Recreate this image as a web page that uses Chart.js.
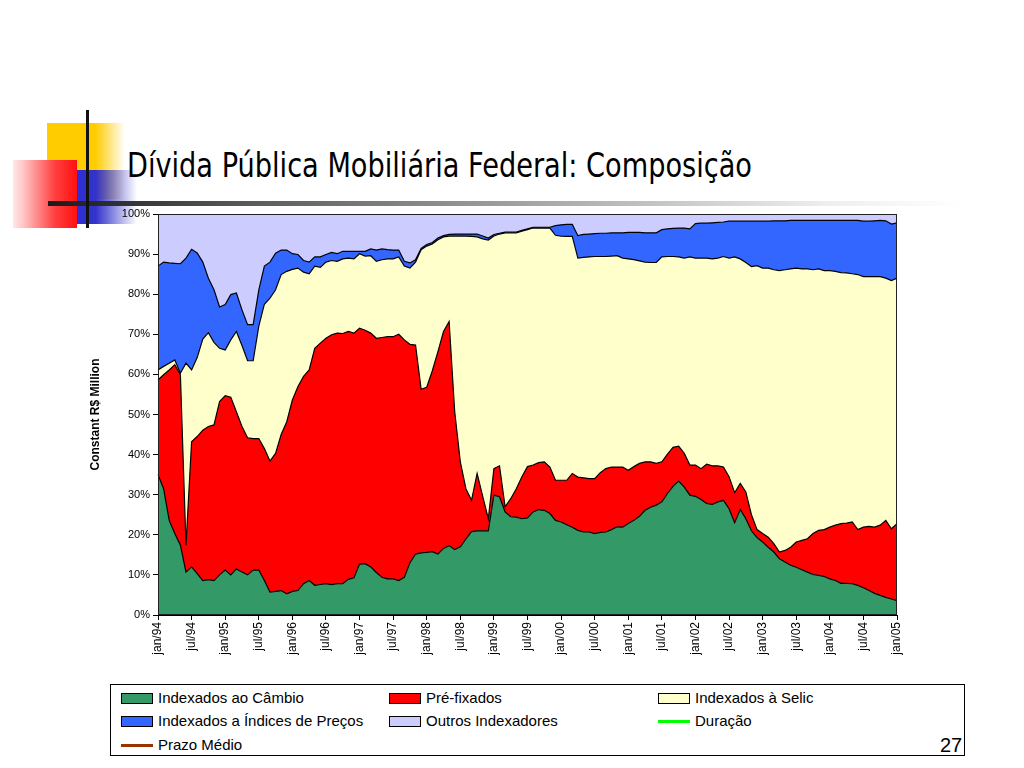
<!DOCTYPE html>
<html>
<head>
<meta charset="utf-8">
<script src="https://cdn.jsdelivr.net/npm/chart.js@4.4.1/dist/chart.umd.min.js"></script>
<style>
html,body{margin:0;padding:0;background:#fff;}
body{width:1024px;height:768px;position:relative;overflow:hidden;font-family:"Liberation Sans",Arial,sans-serif;}
.abs{position:absolute;}
#title{position:absolute;left:127px;top:148px;font-family:"DejaVu Sans","Liberation Sans",sans-serif;font-size:34px;line-height:34px;white-space:nowrap;color:#000;transform-origin:0 0;}
#legend{position:absolute;left:110px;top:684px;width:853px;height:70px;border:1px solid #000;background:#fff;}
.lg{position:absolute;font-size:15px;line-height:16px;white-space:nowrap;color:#000;}
.mk{position:absolute;}
#pg{position:absolute;left:940px;top:735px;font-size:20px;line-height:20px;color:#000;}
canvas{position:absolute;left:0;top:0;}
</style>
</head>
<body>
<!-- decorative slide elements -->
<div class="abs" style="left:47px;top:123px;width:78px;height:76px;background:linear-gradient(to right,#FFCC00 0%,#FFCC00 62%,rgba(255,255,255,0) 100%);"></div>
<div class="abs" style="left:62px;top:170px;width:75px;height:54px;background:linear-gradient(to right,#2A2ADB 0%,#3333CC 45%,rgba(255,255,255,0) 100%);"></div>
<div class="abs" style="left:13px;top:160px;width:64px;height:68px;background:linear-gradient(to left,#FF1010 0%,#FF4040 35%,#FFC8C8 85%,#FFE8E8 100%);"></div>
<div class="abs" style="left:48px;top:201px;width:915px;height:5px;background:linear-gradient(to right,#1a1a1a 0%,#555 20%,#aaa 55%,#eee 85%,#fff 100%);"></div>
<div class="abs" style="left:86px;top:110px;width:3px;height:118px;background:#111;"></div>
<div id="title">Dívida Pública Mobiliária Federal: Composição</div>

<canvas id="c" width="1024" height="768"></canvas>

<div id="legend"></div>
<div id="pg">27</div>

<script>
// ---- categories ----
const monthNames = ['jan','fev','mar','abr','mai','jun','jul','ago','set','out','nov','dez'];
const years = ['94','95','96','97','98','99','00','01','02','03','04','05'];
const categories = [];
for (const y of years) for (const m of monthNames) { if (categories.length < 133) categories.push(m + '/' + y); }

const tickLabels = ['jan/94','jul/94','jan/95','jul/95','jan/96','jul/96','jan/97','jul/97','jan/98','jul/98',
  'jan/99','jul/99','jan/00','jul/00','jan/01','jul/01','jan/02','jul/02','jan/03','jul/03','jan/04','jul/04','jan/05'];

const yTicks = [0,10,20,30,40,50,60,70,80,90,100];

// ---- series values (% of total) ----
const cambio = [35,31.5,23.6,20.3,17.4,10.7,12,10.3,8.6,8.8,
  8.6,10,11.2,10,11.5,10.7,10,11.2,11.2,8.6,
  5.7,5.9,6.1,5.3,5.9,6.1,7.8,8.6,7.4,7.6,
  7.8,7.6,7.8,7.8,8.9,9.3,12.7,12.8,12,10.6,
  9.4,9,9,8.6,9.4,13,15.2,15.5,15.6,15.8,
  15.2,16.6,17.3,16.3,17,19,20.8,21,21,21,
  29.9,29.5,25.7,24.5,24.4,24,24.2,25.7,26.3,26.1,
  25.3,23.6,23.2,22.5,21.9,21.1,20.7,20.7,20.3,20.6,
  20.7,21.3,22,21.9,22.8,23.6,24.6,26.1,26.9,27.4,
  28.2,30.3,32.1,33.4,31.9,29.9,29.6,28.8,27.8,27.6,
  28.2,28.6,26.5,23,26.3,24,21,19.3,18.2,16.9,
  15.7,14,13.2,12.4,11.9,11.3,10.7,10.1,9.9,9.6,
  9,8.6,7.9,7.9,7.8,7.4,6.8,6.1,5.4,4.9,4.4,4,3.6];

const prefixados = [23.6,28.4,37.5,42.1,42.5,6.7,31.2,34.2,37.5,38.2,
  38.8,43.2,43.5,44.3,39.2,36.3,34.2,32.8,32.8,32.9,
  32.7,34.4,38.9,42.9,47.7,50.9,51.7,52.5,59.1,60.2,
  61.2,62.3,62.5,62.4,61.8,61,58.8,58.2,58.3,58.4,
  59.8,60.4,60.4,61.4,59.2,54.5,52.1,40.8,41.2,45.1,
  50.5,54.1,55.9,34.4,21.2,12.5,7.8,14.3,8.6,3,
  6.6,7.7,1.3,4.5,7.1,10.5,12.8,11.7,11.7,12.1,
  11.6,10,10.4,11.1,13.4,13.3,13.5,13.3,13.7,14.9,
  15.8,15.6,14.9,15,13.3,13.4,13.2,12.1,11.3,10.4,
  10,9.8,9.7,8.7,8.4,7.5,7.8,7.7,9.8,9.6,
  9,8.3,8,7.5,6.5,6.7,4,2,2.1,2.5,
  2.1,1.7,2.9,4.5,6.3,7.3,8.3,10.2,11.2,11.7,
  12.9,13.8,14.9,15,15.4,13.9,15.1,16,16.5,17.5,19.2,17.5,19.2];

const selic = [2.5,2.1,1.7,1.2,0.4,45.4,17.9,19.7,22.7,23.4,
  20.6,13.3,11.4,14.3,20,20.2,19.2,19.4,28,36,
  40.6,40.8,39.9,37.5,32.6,29.5,26,24,20.5,18.9,
  19,18.5,17.9,18.6,18.3,18.5,18.6,18.5,19.3,19.2,
  19.4,19.4,19.4,19.3,18.4,19,20.7,34.8,35.2,31.6,
  27.9,23.6,21.3,43.8,56.3,63,65.8,59,64.2,69.5,
  58,57.8,68.3,66.3,63.8,61.2,59.1,59.1,58.5,58.3,
  59.6,61.1,60.9,60.8,59.1,54.6,55,55.3,55.4,53.9,
  52.9,52.6,52.7,52.1,52.7,51.6,50.5,49.8,49.7,50.1,
  51.1,49.3,47.6,47.2,48.7,51.9,51.6,52.5,51.4,51.6,
  51.8,52.5,54.5,58.8,56,57.2,61.9,65.8,66.2,67.1,
  68.3,70.2,70,69.4,68.3,67.7,67.3,65.8,65.2,64.6,
  64,63.3,62.6,62.4,61.9,63.6,62.5,62.3,62.5,62,60.4,61.9,61.2];

const indices = [25.9,26,25,24.1,27.3,26.2,30.1,26.1,19.2,13.6,
  13.1,10.3,11.3,11.3,9.6,8.9,9,9,9,9.5,
  9,9.1,6.1,5.3,3.9,3.4,2.9,2.9,2.3,2.6,
  1.9,2,1.9,1.9,1.7,1.9,0.6,1.2,1.7,2.8,
  2.7,2.3,2.2,1.7,1.2,1.3,0.6,0.3,0.4,0.4,
  0.4,0.3,0.4,0.5,0.5,0.5,0.6,0.7,0.7,0.5,
  0.4,0.2,0.2,0.2,0.2,0.2,0.2,0.2,0.2,0.2,
  0.2,2.4,2.8,3,3,5.6,5.7,5.7,5.7,5.8,
  5.8,5.8,5.7,6.3,6.6,6.8,7.1,7.3,7.4,7.4,
  6.8,6.9,7,7.2,7.5,7,8.6,8.7,8.7,9,
  8.9,8.6,9.2,8.9,9.4,10.3,11.3,11.1,11.7,11.7,
  12.2,12.4,12.2,12.1,11.9,12.1,12.1,12.3,12.1,12.5,
  12.5,12.7,13,13.1,13.3,13.5,13.8,13.8,13.9,14,14.3,14.1,13.8];

const outros = [13,12,12.2,12.3,12.4,11,8.8,9.7,12,16,
  18.9,23.2,22.6,20.1,19.7,23.9,27.6,27.6,19,13,
  12,9.8,9,9,9.9,10.1,11.6,12,10.7,10.7,
  10.1,9.6,9.9,9.3,9.3,9.3,9.3,9.3,8.7,9,
  8.7,8.9,9,9,11.8,12.2,11.4,8.6,7.6,7.1,
  6,5.4,5.1,5,5,5,5,5,5.5,6,
  5.1,4.8,4.5,4.5,4.5,4.1,3.7,3.3,3.3,3.3,
  3.3,2.9,2.7,2.6,2.6,5.4,5.1,5,4.9,4.8,
  4.8,4.7,4.7,4.7,4.6,4.6,4.6,4.7,4.7,4.7,
  3.9,3.7,3.6,3.5,3.5,3.7,2.4,2.3,2.3,2.2,
  2.1,2,1.8,1.8,1.8,1.8,1.8,1.8,1.8,1.8,
  1.7,1.7,1.7,1.6,1.6,1.6,1.6,1.6,1.6,1.6,
  1.6,1.6,1.6,1.6,1.6,1.6,1.8,1.8,1.7,1.6,1.7,2.5,2.2];

const seriesNames = ['Indexados ao Câmbio','Pré-fixados','Indexados à Selic','Indexados a Índices de Preços','Outros Indexadores'];
const seriesColors = ['#339966','#FF0000','#FFFFCC','#3366FF','#CCCCFF'];
const lineNames = ['Duração','Prazo Médio'];
const lineColors = ['#00FF00','#993300'];

// ---- title fit ----
(function(){
  const t = document.getElementById('title');
  const w = t.getBoundingClientRect().width;
  t.style.transform = 'scaleX(' + (625 / w) + ')';
})();

Chart.defaults.font.family = '"Liberation Sans", Arial, sans-serif';
Chart.defaults.color = '#000';

const seriesData = [cambio, prefixados, selic, indices, outros];
const datasets = seriesData.map((d, k) => ({
  label: seriesNames[k],
  data: d,
  backgroundColor: seriesColors[k],
  borderColor: '#000',
  borderWidth: 1.2,
  fill: k === 0 ? 'origin' : '-1',
  pointRadius: 0,
  tension: 0
}));

const boxPlugin = {
  id: 'box',
  afterDatasetsDraw(c) {
    const a = c.chartArea, ctx = c.ctx;
    ctx.save();
    ctx.strokeStyle = '#222';
    ctx.lineWidth = 1;
    ctx.strokeRect(Math.round(a.left) + 0.5, Math.round(a.top) + 0.5, Math.round(a.right - a.left) - 1, Math.round(a.bottom - a.top) - 1);
    ctx.restore();
  }
};

new Chart(document.getElementById('c'), {
  type: 'line',
  data: { labels: categories, datasets },
  options: {
    responsive: false,
    animation: false,
    devicePixelRatio: 1,
    layout: { padding: { left: 88, right: 127, top: 214, bottom: 103 } },
    plugins: { legend: { display: false }, tooltip: { enabled: false } },
    scales: {
      x: {
        type: 'category',
        offset: false,
        border: { color: '#000' },
        grid: {
          drawOnChartArea: false,
          tickLength: 5,
          tickColor: ctx => (ctx.index % 6 === 0 ? '#000' : 'rgba(0,0,0,0)')
        },
        ticks: {
          autoSkip: false,
          maxRotation: 90,
          minRotation: 90,
          padding: 2,
          font: { size: 12 },
          color: '#000',
          callback: (v, i) => (i % 6 === 0 ? tickLabels[i / 6] : '')
        },
        afterFit: s => { s.height = 50; }
      },
      y: {
        stacked: true,
        min: 0,
        max: 100,
        border: { color: '#000' },
        grid: { drawOnChartArea: false, tickLength: 5, tickColor: '#000' },
        afterBuildTicks: s => { s.ticks = yTicks.map(v => ({ value: v })); },
        ticks: { font: { size: 11 }, color: '#000', padding: 3, callback: v => v + '%' },
        title: { display: true, text: 'Constant R$ Million', font: { size: 12, weight: 'bold' }, color: '#000', padding: 0 },
        afterFit: s => { s.width = 70; }
      }
    }
  },
  plugins: [boxPlugin]
});

// ---- HTML legend ----
(function(){
  const lg = document.getElementById('legend');
  const cols = [10, 278, 547];
  const rows = [13, 36, 60];
  const entries = [];
  seriesNames.forEach((n, k) => entries.push({ name: n, color: seriesColors[k], type: 'box' }));
  lineNames.forEach((n, k) => entries.push({ name: n, color: lineColors[k], type: 'line' }));
  entries.forEach((e, k) => {
    const r = Math.floor(k / 3), c = k % 3;
    const mk = document.createElement('div');
    mk.className = 'mk';
    if (e.type === 'box') {
      mk.style.cssText = 'left:' + cols[c] + 'px;top:' + (rows[r] - 5) + 'px;width:30px;height:9px;border:1px solid #000;background:' + e.color + ';';
    } else {
      mk.style.cssText = 'left:' + cols[c] + 'px;top:' + (rows[r] - 1) + 'px;width:32px;height:3px;background:' + e.color + ';';
    }
    lg.appendChild(mk);
    const tx = document.createElement('div');
    tx.className = 'lg';
    tx.textContent = e.name;
    tx.style.left = (cols[c] + 37) + 'px';
    tx.style.top = (rows[r] - 8) + 'px';
    lg.appendChild(tx);
  });
})();
</script>
</body>
</html>
